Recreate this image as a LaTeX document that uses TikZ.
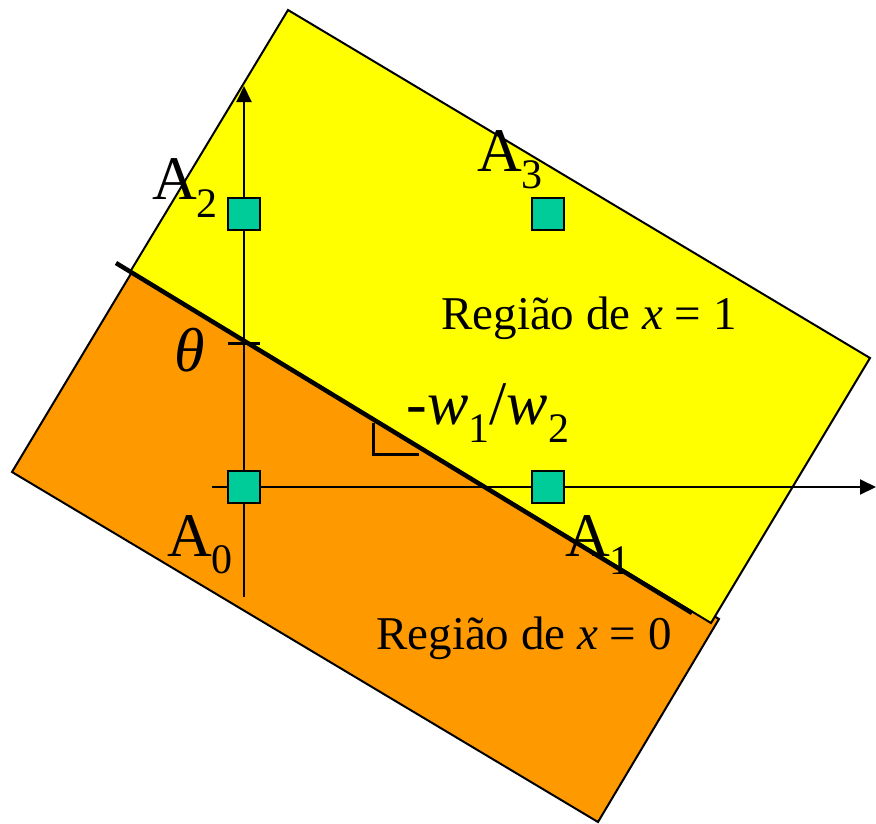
\documentclass[tikz,border=0pt]{standalone}
\usepackage{fontspec}
\setmainfont{Liberation Serif}
\usetikzlibrary{arrows.meta}
\definecolor{regionone}{RGB}{255,255,0}
\definecolor{regionzero}{RGB}{255,153,0}
\definecolor{pointfill}{RGB}{0,204,153}
\newcommand{\lowsub}[1]{\raisebox{-0.28em}{\fontsize{42}{42}\selectfont #1}}
\tikzset{
  point/.style={draw=black,line width=1.8pt,fill=pointfill,minimum size=32pt,inner sep=0pt},
  biglabel/.style={font=\fontsize{62}{62}\selectfont,inner sep=0pt},
  regionlabel/.style={font=\fontsize{47}{47}\selectfont,inner sep=0pt},
  axis/.style={line width=2pt,-{Triangle[length=16pt,width=15pt]}}
}
\begin{document}
\begin{tikzpicture}[x=1pt,y=-1pt]
\useasboundingbox (0,0) rectangle (876,823);
% the two half planes
\draw[line width=2pt,fill=regionzero] (12,472) -- (132,272) -- (719,619) -- (598,822) -- cycle;
\draw[line width=2pt,fill=regionone] (130,272) -- (288,10) -- (870,358) -- (711,623) -- cycle;
% separating line
\coordinate (s0) at (116,263);
\coordinate (s1) at (692,613);
\draw[line width=4.5pt] (s0) -- (s1);
% axes
\coordinate (xs) at (212,487);
\coordinate (xe) at (876,487);
\coordinate (ys) at (244,597);
\coordinate (ye) at (244,86);
\draw[axis] (xs) -- (xe);
\draw[axis] (ys) -- (ye);
% theta tick
\coordinate (t0) at (228,343);
\coordinate (t1) at (260,343);
\draw[line width=3pt] (t0) -- (t1);
% right angle
\coordinate (r0) at (373,423);
\coordinate (r1) at (373,454);
\coordinate (r2) at (419,454);
\draw[line width=3pt] (r0) -- (r1) -- (r2);
% input points
\node[point] (A0) at (244,487) {};
\node[point] (A1) at (548,487) {};
\node[point] (A2) at (244,214) {};
\node[point] (A3) at (548,214) {};
% labels
\node[biglabel] (lA0) at (200,545) {A\lowsub{0}};
\node[biglabel] (lA1) at (598,545) {A\lowsub{1}};
\node[biglabel] (lA2) at (185,188) {A\lowsub{2}};
\node[biglabel] (lA3) at (510,160) {A\lowsub{3}};
\node[biglabel] (ltheta) at (190,350) {\textit{θ}};
\node[biglabel] (lslope) at (488,413) {-\textit{w}\lowsub{1}/\textit{w}\lowsub{2}};
\node[regionlabel] (lone) at (589,318) {Região de \textit{x} = 1};
\node[regionlabel] (lzero) at (524,638) {Região de \textit{x} = 0};
\end{tikzpicture}
\end{document}
